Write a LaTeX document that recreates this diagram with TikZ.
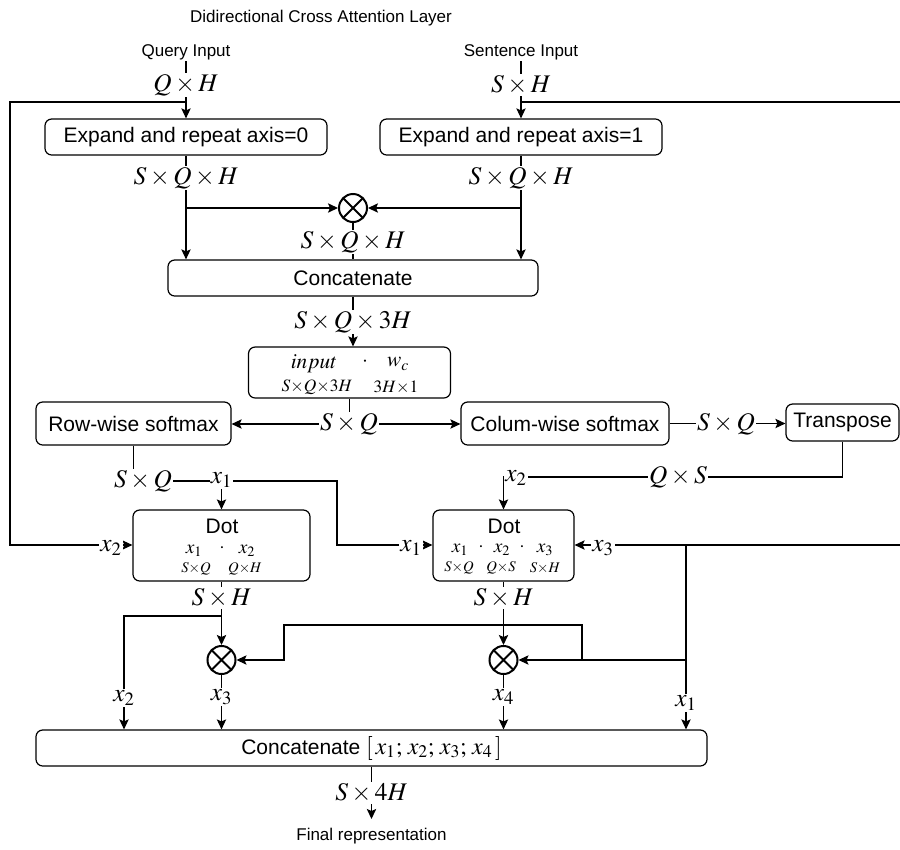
\documentclass[tikz,border=0pt]{standalone}
\usepackage{mathptmx}
\usepackage{fontspec}
\setmainfont{Liberation Sans}
\usetikzlibrary{arrows.meta,calc}
\pgfdeclarelayer{bg}
\pgfsetlayers{bg,main}

\begin{document}
\begin{tikzpicture}[x=0.75pt,y=-0.75pt,
  box/.style 2 args={draw, rounded corners=5pt, line width=0.9pt,
    minimum width=#1*0.75pt, minimum height=#2*0.75pt, inner sep=0pt,
    font=\fontsize{15.75}{18}\selectfont, align=center},
  captxt/.style={font=\fontsize{12.75}{15}\selectfont, inner sep=1pt},
  boxtxt/.style={font=\fontsize{15.75}{18}\selectfont, inner sep=0pt},
  dimlbl/.style={font=\fontsize{19}{21}\selectfont, fill=white, inner sep=1pt},
  termbig/.style={font=\fontsize{16}{18}\selectfont, inner sep=0pt},
  shapebig/.style={font=\fontsize{13}{14}\selectfont, inner sep=0pt},
  term/.style={font=\fontsize{14.5}{15}\selectfont, inner sep=0pt},
  shapesm/.style={font=\fontsize{11}{12}\selectfont, inner sep=0pt},
  mul/.style={inner sep=0pt, text height=3pt, text depth=0pt},
  conn/.style={line width=0.9pt},
  arr/.style={-{Stealth[length=7.5pt,width=7pt,inset=1.5pt]}},
  otimes/.style={circle, draw, line width=1.5pt, minimum size=21pt, inner sep=0pt,
    path picture={\draw[line width=1.5pt]
      (path picture bounding box.north west) -- (path picture bounding box.south east)
      (path picture bounding box.north east) -- (path picture bounding box.south west);}}
]
\useasboundingbox (0,0) rectangle (900,850);

% ---------- inputs ----------
\node[captxt] (title) at (321,18) {Didirectional Cross Attention Layer};
\node[captxt] (qin) at (186,52) {Query Input};
\node[captxt] (sin) at (521,52) {Sentence Input};
\node[dimlbl] (qdim) at (186,85) {$Q\times H$};
\node[dimlbl] (sdim) at (521,85) {$S\times H$};

\node[box={282}{36}] (e0) at (186,137) {Expand and repeat axis=0};
\node[box={282}{36}] (e1) at (521,137) {Expand and repeat axis=1};
\node[dimlbl] (d0) at (186,178) {$S\times Q\times H$};
\node[dimlbl] (d1) at (521,178) {$S\times Q\times H$};

\node[otimes] (ox) at (353,208) {};
\node[dimlbl] (dx) at (353,242) {$S\times Q\times H$};
\node[box={370}{36}] (cat) at (353,278) {Concatenate};
\node[dimlbl] (d3) at (353,322) {$S\times Q\times 3H$};

% linear scoring  input . w_c
\node[box={202}{51}] (inp) at (349.5,372.5) {};
\node[termbig] (inpa) at (314,364) {$input$};
\node[termbig,mul] (inpdot) at (365,364) {$\cdot$};
\node[termbig] (inpw) at (398,364) {$w_c$};
\node[shapebig] (inpas) at (317,387) {$S{\times}Q{\times}3H$};
\node[shapebig] (inpws) at (396,387) {$3H{\times}1$};
\node[dimlbl] (sq) at (349,424) {$S\times Q$};

% ---------- softmax branches ----------
\node[box={195}{43}] (row) at (133.5,423.5) {Row-wise softmax};
\node[box={208}{43}] (col) at (565,423.5) {Colum-wise softmax};
\node[dimlbl] (sq2) at (726,424) {$S\times Q$};
\node[box={113}{37}] (tr) at (842.5,422.5) {Transpose};

\node[dimlbl] (qs) at (678,477) {$Q\times S$};
\node[dimlbl] (x2b) at (516,478) {$x_2$};
\node[dimlbl] (sq3) at (143,481) {$S\times Q$};
\node[dimlbl] (x1a) at (221.5,480) {$x_1$};

% ---------- dot products ----------
\node[box={177}{71}] (dot1) at (221.5,545.5) {};
\node[boxtxt] (dot1t) at (222,526) {Dot};
\node[term] (d1a) at (194,551) {$x_1$};
\node[term,mul] (d1dot) at (222,550) {$\cdot$};
\node[term] (d1b) at (247,551) {$x_2$};
\node[shapesm] (d1as) at (196,569) {$S{\times}Q$};
\node[shapesm] (d1bs) at (245,569) {$Q{\times}H$};

\node[box={141}{71}] (dot2) at (503.5,545.5) {};
\node[boxtxt] (dot2t) at (504,526) {Dot};
\node[term] (d2a) at (460,550) {$x_1$};
\node[term,mul] (d2dot1) at (481,549) {$\cdot$};
\node[term] (d2b) at (502,550) {$x_2$};
\node[term,mul] (d2dot2) at (522,549) {$\cdot$};
\node[term] (d2c) at (545,550) {$x_3$};
\node[shapesm] (d2as) at (459,568) {$S{\times}Q$};
\node[shapesm] (d2bs) at (501,568) {$Q{\times}S$};
\node[shapesm] (d2cs) at (545,568) {$S{\times}H$};

\node[dimlbl] (x2a) at (111,548) {$x_2$};
\node[dimlbl] (x1b) at (411,548) {$x_1$};
\node[dimlbl] (x3a) at (603,548) {$x_3$};
\node[dimlbl] (sh1) at (221.5,598) {$S\times H$};
\node[dimlbl] (sh2) at (503.5,598) {$S\times H$};

% ---------- products and output ----------
\node[otimes] (o1) at (221.5,660) {};
\node[otimes] (o2) at (503.5,660) {};
\node[dimlbl] (lx2) at (124,698) {$x_2$};
\node[dimlbl] (lx3) at (221.5,697) {$x_3$};
\node[dimlbl] (lx4) at (503.5,697) {$x_4$};
\node[dimlbl] (lx1) at (686,703) {$x_1$};

\node[box={671}{36}] (cat2) at (371.5,748) {Concatenate {\fontsize{18}{20}\selectfont$[\,x_1;\, x_2;\, x_3;\, x_4\,]$}};
\node[dimlbl] (s4h) at (371.5,793) {$S\times 4H$};
\node[captxt] (fin) at (371.5,836) {Final representation};

% ---------- connectors ----------
\begin{pgfonlayer}{bg}
\coordinate (jq) at (186,102);
\coordinate (lq) at (10,102);
\coordinate (lb) at (10,545);
\coordinate (js) at (521,102);
\coordinate (rt) at (905,102);
\coordinate (rb) at (905,545);
\coordinate (b0) at (186,208);
\coordinate (b1) at (521,208);
\coordinate (si) at (349.5,424);
\coordinate (c2) at (503.5,477);
\coordinate (r2) at (221.5,481);
\coordinate (r3) at (337,481);
\coordinate (r4) at (337,545);
\coordinate (v1) at (686,545);
\coordinate (v2) at (686,660);
\coordinate (v3) at (582,660);
\coordinate (v4) at (582,625);
\coordinate (v5) at (284,625);
\coordinate (v6) at (284,660);
\coordinate (j1) at (221.5,616);
\coordinate (j2) at (124,616);
\coordinate (fa) at (371.5,819);

\draw[conn,arr] (qin.south) -- (e0.north);
\draw[conn,arr] (sin.south) -- (e1.north);
\draw[conn,arr] (jq) -- (lq) -- (lb) -- (lb -| dot1.west);
\draw[conn,arr] (js) -- (rt) -- (rb) -- (rb -| dot2.east);

\draw[conn,arr] (e0.south) -- (e0.south |- cat.north);
\draw[conn,arr] (e1.south) -- (e1.south |- cat.north);
\draw[conn,arr] (b0) -- (ox.west);
\draw[conn,arr] (b1) -- (ox.east);
\draw[conn] (ox.south) -- (ox.south |- cat.north);
\draw[conn,arr] (cat.south) -- (cat.south |- inp.north);

\draw[conn] (inp.south) -- (si);
\draw[conn,arr] (si) -- (si -| row.east);
\draw[conn,arr] (si) -- (si -| col.west);
\draw[conn,arr] (col.east) -- (col.east -| tr.west);
\draw[conn,arr] (tr.south) |- (c2) -- (dot2.north);

\draw[conn,arr] (row.south) |- (r3) -- (r4) -- (r4 -| dot2.west);
\draw[conn,arr] (r2) -- (dot1.north);

\draw[conn,arr] (v1) -- (v1 |- cat2.north);
\draw[conn,arr] (v2) -- (o2.east);
\draw[conn,arr] (v3) -- (v4) -- (v5) -- (v6) -- (o1.east);

\draw[conn,arr] (dot1.south) -- (o1.north);
\draw[conn,arr] (j1) -- (j2) -- (j2 |- cat2.north);
\draw[conn,arr] (dot2.south) -- (o2.north);
\draw[conn,arr] (o1.south) -- (o1.south |- cat2.north);
\draw[conn,arr] (o2.south) -- (o2.south |- cat2.north);
\draw[conn,arr] (cat2.south) -- (fa);
\end{pgfonlayer}
\end{tikzpicture}
\end{document}
